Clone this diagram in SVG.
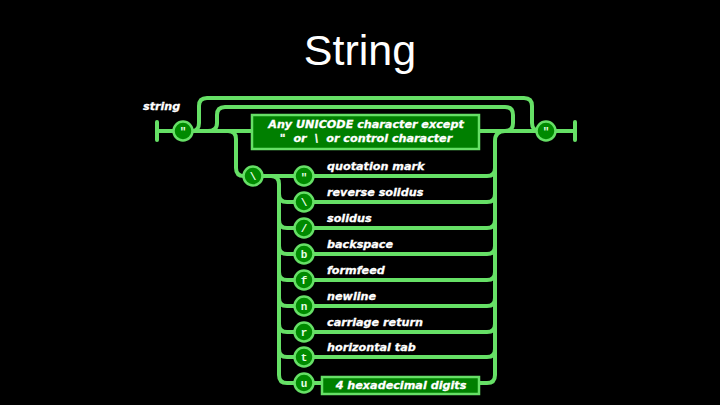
<svg xmlns="http://www.w3.org/2000/svg" width="720" height="405" viewBox="0 0 720 405">
<style>
.w{fill:none;stroke:#66e066;stroke-width:4;stroke-linecap:round}
.c{fill:#008a00;stroke:#66e066;stroke-width:2.5}
.b{fill:#007f00;stroke:#66e066;stroke-width:2.5}
.g{font-family:"Liberation Mono",monospace;font-size:11px;font-weight:bold;fill:#e6ffe6;text-anchor:middle}
.l{font-family:"DejaVu Sans",sans-serif;font-size:11.2px;font-weight:bold;font-style:italic;fill:#ffffff;stroke:#ffffff;stroke-width:0.3}
.m{text-anchor:middle;white-space:pre}
</style>
<rect width="720" height="405" fill="#000"/>
<text x="360" y="65" font-family="Liberation Sans,Arial,sans-serif" font-size="43" fill="#fff" text-anchor="middle">String</text>
<text class="l" x="143" y="110">string</text>
<g id="connectors">
<path class="w" d="M157 122V140M157 131H174"/>
<path class="w" d="M192 131H252M479 131H537"/>
<path class="w" d="M555 131H575M575 122V140"/>
<path class="w" d="M192 131Q199 131 199 123V106Q199 98 207 98H524Q532 98 532 106V123Q532 131 540 131"/>
<path class="w" d="M208 131Q217 131 217 123V115Q217 107 225 107H505Q513 107 513 115V123Q513 131 505 131"/>
<path class="w" d="M228 131Q236 131 236 139V168Q236 176 244 176"/>
<path class="w" d="M262 176H295"/>
<path class="w" d="M271 176Q279 176 279 184V375Q279 383 287 383H295"/>
<path class="w" d="M279 194Q279 202 287 202H295M279 220Q279 228 287 228H295M279 246Q279 254 287 254H295M279 272Q279 280 287 280H295M279 298Q279 306 287 306H295M279 324Q279 332 287 332H295M279 349Q279 357 287 357H295"/>
<path class="w" d="M313 176H487Q495 176 495 168M313 202H487Q495 202 495 194M313 228H487Q495 228 495 220M313 254H487Q495 254 495 246M313 280H487Q495 280 495 272M313 306H487Q495 306 495 298M313 332H487Q495 332 495 324M313 357H487Q495 357 495 349"/>
<path class="w" d="M313 383H322M479 383H487Q495 383 495 375V141Q495 131 505 131"/>
</g>
<g id="start-quote"><circle class="c" cx="183" cy="131" r="9.5"/><text class="g" x="183" y="135">"</text></g>
<g id="end-quote"><circle class="c" cx="546" cy="131" r="9.5"/><text class="g" x="546" y="135">"</text></g>
<g id="unicode-box"><rect class="b" x="252" y="115" width="227" height="34"/>
<text class="l m" x="366" y="128">Any UNICODE character except</text>
<text class="l m" x="366" y="142">"  or  \  or control character</text></g>
<g id="escape"><circle class="c" cx="253" cy="176" r="9.5"/><text class="g" x="253" y="180">\</text></g>
<g id="n-quot"><circle class="c" cx="304" cy="176" r="9.5"/><text class="g" x="304" y="181">"</text><text class="l" x="327" y="170">quotation mark</text></g>
<g id="n-rsol"><circle class="c" cx="304" cy="202" r="9.5"/><text class="g" x="304" y="206">\</text><text class="l" x="327" y="196">reverse solidus</text></g>
<g id="n-sol"><circle class="c" cx="304" cy="228" r="9.5"/><text class="g" x="304" y="232">/</text><text class="l" x="327" y="222">solidus</text></g>
<g id="n-b"><circle class="c" cx="304" cy="254" r="9.5"/><text class="g" x="304" y="258">b</text><text class="l" x="327" y="248">backspace</text></g>
<g id="n-f"><circle class="c" cx="304" cy="280" r="9.5"/><text class="g" x="304" y="284">f</text><text class="l" x="327" y="274">formfeed</text></g>
<g id="n-n"><circle class="c" cx="304" cy="306" r="9.5"/><text class="g" x="304" y="310">n</text><text class="l" x="327" y="300">newline</text></g>
<g id="n-r"><circle class="c" cx="304" cy="332" r="9.5"/><text class="g" x="304" y="336">r</text><text class="l" x="327" y="326">carriage return</text></g>
<g id="n-t"><circle class="c" cx="304" cy="357" r="9.5"/><text class="g" x="304" y="361">t</text><text class="l" x="327" y="351">horizontal tab</text></g>
<g id="n-u"><circle class="c" cx="304" cy="383" r="9.5"/><text class="g" x="304" y="387">u</text>
<rect class="b" x="322" y="377" width="157" height="17"/><text class="l m" x="401" y="389">4 hexadecimal digits</text></g>
</svg>
